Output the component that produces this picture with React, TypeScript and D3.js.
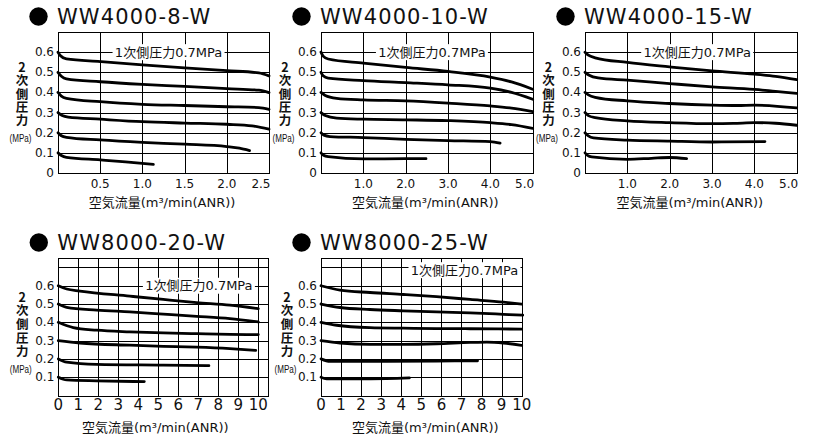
import React from 'react';
import * as d3 from 'd3';

// ---------- data ----------
const titles = ['WW4000-8-W', 'WW4000-10-W', 'WW4000-15-W', 'WW8000-20-W', 'WW8000-25-W'];
const primaryLabel = '1次側圧力0.7MPa';
const xAxisTitle = '空気流量(m³/min(ANR))';
const yAxisTitle = '2次側圧力';
const yUnit = '(MPa)';

const xTicks4000_8 = [0.5, 1.0, 1.5, 2.0, 2.5];
const xTicks4000 = [1, 2, 3, 4, 5];
const xTicks8000 = [0, 1, 2, 3, 4, 5, 6, 7, 8, 9, 10];
const yTicks4000 = [0, 0.1, 0.2, 0.3, 0.4, 0.5, 0.6];
const yTicks8000 = [0.1, 0.2, 0.3, 0.4, 0.5, 0.6];
const yGrid4000 = [0.1, 0.2, 0.3, 0.4, 0.5, 0.6];
const yGrid8000 = [0.1, 0.2, 0.3, 0.4, 0.5, 0.6, 0.7];

// secondary pressure curves [flow, pressure], one per set pressure 0.6 ... 0.1
const ww4000_8: number[][][] = [
  [[0, 0.6], [0.03, 0.582], [0.1, 0.566], [0.5, 0.553], [1.0, 0.537], [1.5, 0.522], [2.0, 0.508], [2.38, 0.497], [2.5, 0.482]],
  [[0, 0.5], [0.04, 0.48], [0.1, 0.467], [0.5, 0.453], [1.0, 0.44], [1.5, 0.43], [2.0, 0.419], [2.38, 0.411], [2.5, 0.399]],
  [[0, 0.4], [0.04, 0.382], [0.1, 0.371], [0.5, 0.354], [1.0, 0.341], [1.5, 0.335], [2.0, 0.329], [2.38, 0.325], [2.5, 0.316]],
  [[0, 0.3], [0.05, 0.285], [0.12, 0.277], [0.5, 0.267], [1.0, 0.255], [1.5, 0.248], [2.0, 0.242], [2.3, 0.234], [2.5, 0.218]],
  [[0, 0.2], [0.04, 0.185], [0.1, 0.177], [0.5, 0.164], [1.0, 0.152], [1.5, 0.143], [2.0, 0.131], [2.15, 0.123], [2.27, 0.111]],
  [[0, 0.1], [0.04, 0.087], [0.1, 0.078], [0.5, 0.065], [0.8, 0.055], [1.13, 0.043]],
];
const ww4000_10: number[][][] = [
  [[0, 0.6], [0.05, 0.58], [0.17, 0.566], [1, 0.546], [2, 0.524], [3, 0.504], [4, 0.476], [4.5, 0.452], [5, 0.416]],
  [[0, 0.5], [0.05, 0.483], [0.17, 0.471], [1, 0.459], [2, 0.449], [3, 0.438], [4, 0.421], [4.5, 0.4], [5, 0.366]],
  [[0, 0.4], [0.1, 0.385], [0.37, 0.371], [1, 0.363], [2, 0.358], [3, 0.347], [4, 0.333], [4.5, 0.322], [5, 0.305]],
  [[0, 0.3], [0.1, 0.285], [0.37, 0.272], [1, 0.267], [2, 0.264], [3, 0.26], [4, 0.25], [4.5, 0.24], [5, 0.222]],
  [[0, 0.2], [0.07, 0.188], [0.21, 0.181], [1, 0.176], [2, 0.167], [3, 0.161], [4, 0.156], [4.23, 0.148]],
  [[0, 0.1], [0.06, 0.088], [0.17, 0.081], [1, 0.07], [2, 0.071], [2.48, 0.071]],
];
const ww4000_15: number[][][] = [
  [[0, 0.6], [0.08, 0.585], [0.24, 0.572], [1, 0.549], [2, 0.527], [3, 0.507], [4, 0.491], [4.5, 0.48], [5, 0.464]],
  [[0, 0.5], [0.1, 0.485], [0.31, 0.472], [1, 0.461], [2, 0.444], [3, 0.428], [4, 0.415], [4.5, 0.405], [5, 0.395]],
  [[0, 0.4], [0.08, 0.388], [0.24, 0.376], [1, 0.358], [2, 0.345], [3, 0.337], [3.6, 0.335], [4, 0.337], [5, 0.323]],
  [[0, 0.3], [0.08, 0.285], [0.24, 0.275], [1, 0.259], [2, 0.25], [3, 0.245], [3.5, 0.246], [4, 0.25], [4.5, 0.247], [5, 0.237]],
  [[0, 0.2], [0.08, 0.184], [0.2, 0.174], [1, 0.163], [2, 0.158], [3, 0.154], [4.25, 0.156]],
  [[0, 0.1], [0.06, 0.088], [0.16, 0.08], [1, 0.068], [1.57, 0.073], [2, 0.077], [2.4, 0.071]],
];
const ww8000_20: number[][][] = [
  [[0, 0.6], [0.42, 0.582], [1.08, 0.571], [3.58, 0.543], [5.25, 0.525], [6.92, 0.508], [8.58, 0.494], [10, 0.475]],
  [[0, 0.5], [0.42, 0.482], [1.92, 0.467], [3.58, 0.457], [5.25, 0.445], [6.92, 0.433], [8.58, 0.42], [10, 0.402]],
  [[0, 0.4], [0.75, 0.371], [1.92, 0.357], [3.58, 0.348], [5.25, 0.342], [6.92, 0.338], [8.58, 0.334], [10, 0.333]],
  [[0, 0.3], [1.08, 0.287], [3.58, 0.275], [5.25, 0.269], [6.92, 0.264], [8.58, 0.256], [9.87, 0.247]],
  [[0, 0.2], [0.42, 0.182], [1.92, 0.17], [5.25, 0.166], [7.53, 0.163]],
  [[0, 0.1], [0.42, 0.085], [1.92, 0.08], [4.3, 0.076]],
];
const ww8000_25: number[][][] = [
  [[0, 0.6], [0.95, 0.576], [2.44, 0.563], [4.1, 0.552], [5.76, 0.54], [7.43, 0.525], [9.09, 0.51], [10, 0.5]],
  [[0, 0.5], [0.95, 0.481], [2.44, 0.47], [4.1, 0.463], [5.76, 0.457], [7.43, 0.452], [9.09, 0.444], [10.05, 0.439]],
  [[0, 0.4], [0.78, 0.384], [2.44, 0.371], [4.1, 0.368], [5.76, 0.366], [7.43, 0.365], [10, 0.363]],
  [[0, 0.3], [0.95, 0.287], [2.44, 0.28], [4.1, 0.28], [5.76, 0.283], [7.43, 0.29], [8.26, 0.292], [9.09, 0.287], [10, 0.274]],
  [[0, 0.2], [0.45, 0.186], [2.44, 0.186], [5.76, 0.188], [7.8, 0.19]],
  [[0, 0.1], [0.28, 0.091], [2.44, 0.091], [4.4, 0.096]],
];

// ---------- layout ----------
type Cfg = {
  title: string;
  series: number[][][];
  xTicks: number[];
  xGrid: number[];
  yTicks: number[];
  yGrid: number[];
  xMax: number;
  xFrame: number;
  yMax: number;
  xRange: [number, number];
  yRange: [number, number];
  labelX: number;
  labelY: number;
  lastTickEnd: boolean;
  xTickFont: number;
  xTickY: number;
  xTitleDx: number;
  xTitleY: number;
  yCharStart: number;
  yCharStep: number;
  yLabelDx: number;
};

const FONT_NUM = "'DejaVu Sans', 'Liberation Sans', sans-serif";
const FONT_JP = "'DejaVu Sans', 'Noto Sans CJK JP', sans-serif";
const FONT_JP_BOLD = "'Noto Sans CJK JP', 'DejaVu Sans', sans-serif";
const Y_TITLE_SIZE = 12.5;

const cfgs: Cfg[] = [
  {
    title: titles[0], series: ww4000_8, xTicks: xTicks4000_8, xGrid: [0.5, 1.0, 1.5, 2.0],
    yTicks: yTicks4000, yGrid: yGrid4000, xMax: 2.5, xFrame: 2.5, yMax: 0.7,
    xRange: [58, 269], yRange: [173, 32], labelX: 1.31, labelY: 0.6, lastTickEnd: true,
    xTickFont: 12, xTickY: 183.5, xTitleDx: -1.5, xTitleY: 202, yCharStart: 67, yCharStep: 13.4, yLabelDx: -36,
  },
  {
    title: titles[1], series: ww4000_10, xTicks: xTicks4000, xGrid: [1, 2, 3, 4],
    yTicks: yTicks4000, yGrid: yGrid4000, xMax: 5, xFrame: 5, yMax: 0.7,
    xRange: [321, 532.7], yRange: [173, 32], labelX: 2.62, labelY: 0.6, lastTickEnd: true,
    xTickFont: 12, xTickY: 183.5, xTitleDx: -1.5, xTitleY: 202, yCharStart: 67, yCharStep: 13.4, yLabelDx: -36,
  },
  {
    title: titles[2], series: ww4000_15, xTicks: xTicks4000, xGrid: [1, 2, 3, 4],
    yTicks: yTicks4000, yGrid: yGrid4000, xMax: 5, xFrame: 5, yMax: 0.7,
    xRange: [585, 796.7], yRange: [173, 32], labelX: 2.65, labelY: 0.6, lastTickEnd: true,
    xTickFont: 12, xTickY: 183.5, xTitleDx: -1, xTitleY: 202, yCharStart: 67, yCharStep: 13.4, yLabelDx: -36.5,
  },
  {
    title: titles[3], series: ww8000_20, xTicks: xTicks8000, xGrid: [1, 2, 3, 4, 5, 6, 7, 8, 9, 10],
    yTicks: yTicks8000, yGrid: yGrid8000, xMax: 10, xFrame: 10.5, yMax: 0.75,
    xRange: [58.3, 258.3], yRange: [395.5, 258.3], labelX: 7.03, labelY: 0.6, lastTickEnd: false,
    xTickFont: 15, xTickY: 405, xTitleDx: -8, xTitleY: 427, yCharStart: 297, yCharStep: 13.6, yLabelDx: -36,
  },
  {
    title: titles[4], series: ww8000_25, xTicks: xTicks8000, xGrid: [1, 2, 3, 4, 5, 6, 7, 8, 9],
    yTicks: yTicks8000, yGrid: yGrid8000, xMax: 10, xFrame: 10, yMax: 0.75,
    xRange: [321, 521.7], yRange: [395.5, 258.3], labelX: 7.15, labelY: 0.685, lastTickEnd: false,
    xTickFont: 15, xTickY: 405, xTitleDx: 4, xTitleY: 427, yCharStart: 297, yCharStep: 13.6, yLabelDx: -34,
  },
];

const px = (v: number) => Math.round(v) + 0.5;

function Chart({ c }: { c: Cfg }) {
  const x = d3.scaleLinear().domain([0, c.xMax]).range(c.xRange);
  const y = d3.scaleLinear().domain([0, c.yMax]).range(c.yRange);
  const line = d3
    .line<number[]>()
    .x((d) => x(d[0]))
    .y((d) => y(d[1]))
    .curve(d3.curveMonotoneX);
  const left = px(x(0));
  const right = px(x(c.xFrame));
  const bottom = px(y(0));
  const top = px(y(c.yMax));
  const fmtX = (v: number) => (c.xMax <= 5 ? d3.format('.1f')(v) : String(v));
  const fmtY = (v: number) => (v === 0 ? '0' : d3.format('.1f')(v));
  const titleBase = top - 8.5;
  const lblX = x(c.labelX);
  const lblY = y(c.labelY);
  const midX = (x(0) + x(c.xFrame)) / 2 + c.xTitleDx;
  const yLabX = x(0) + c.yLabelDx;
  return (
    <g>
      {/* title */}
      <circle cx={x(0) - 19.5} cy={titleBase - 7.5} r={9.2} fill="#000" />
      <text x={x(0) - 1} y={titleBase} fontFamily={FONT_NUM} fontSize={21} letterSpacing={1.1} fill="#111">
        {c.title}
      </text>
      {/* grid */}
      <g stroke="#000" strokeWidth={1} shapeRendering="crispEdges">
        {c.xGrid.map((g) => (
          <line key={'vx' + g} x1={px(x(g))} x2={px(x(g))} y1={top} y2={bottom} />
        ))}
        {c.yGrid.map((g) => (
          <line key={'hy' + g} x1={left} x2={right} y1={px(y(g))} y2={px(y(g))} />
        ))}
        <rect x={left} y={top} width={right - left} height={bottom - top} fill="none" />
      </g>
      {/* primary pressure label */}
      <rect x={lblX - 56} y={lblY - 8} width={112} height={16} fill="#fff" />
      <text x={lblX} y={lblY} textAnchor="middle" dominantBaseline="central" fontFamily={FONT_JP} fontSize={13} fill="#111">
        {primaryLabel}
      </text>
      {/* curves */}
      {c.series.map((s, i) => (
        <path key={i} d={line(s) || ''} fill="none" stroke="#000" strokeWidth={2.8} strokeLinecap="round" strokeLinejoin="round" />
      ))}
      {/* y ticks */}
      {c.yTicks.map((t) => (
        <text key={'yt' + t} x={x(0) - 4} y={y(t)} textAnchor="end" dominantBaseline="central" fontFamily={FONT_NUM} fontSize={12} fill="#111">
          {fmtY(t)}
        </text>
      ))}
      {/* x ticks */}
      {c.xTicks.map((t, i) => {
        const isLast = i === c.xTicks.length - 1 && c.lastTickEnd;
        return (
          <text
            key={'xt' + t}
            x={isLast ? x(c.xFrame) + 1.5 : x(t)}
            y={c.xTickY}
            textAnchor={isLast ? 'end' : 'middle'}
            dominantBaseline="central"
            fontFamily={FONT_NUM}
            fontSize={c.xTickFont}
            fill="#111"
          >
            {fmtX(t)}
          </text>
        );
      })}
      {/* x axis title */}
      <text x={midX} y={c.xTitleY} textAnchor="middle" dominantBaseline="central" fontFamily={FONT_JP} fontSize={13} fill="#111">
        {xAxisTitle}
      </text>
      {/* y axis title, vertical writing */}
      <text
        x={yLabX}
        y={c.yCharStart - Y_TITLE_SIZE / 2}
        style={{ writingMode: 'vertical-rl', textOrientation: 'upright' } as React.CSSProperties}
        fontFamily={FONT_JP_BOLD}
        fontWeight="bold"
        fontSize={Y_TITLE_SIZE}
        letterSpacing={c.yCharStep - Y_TITLE_SIZE}
        fill="#111"
      >
        {yAxisTitle}
      </text>
      <text
        x={yLabX - 1.5}
        y={c.yCharStart + 5 * c.yCharStep + 4}
        textAnchor="middle"
        dominantBaseline="central"
        fontFamily="'Liberation Sans Narrow', 'Liberation Sans', sans-serif"
        fontSize={10}
        textLength={22}
        lengthAdjust="spacingAndGlyphs"
        fill="#111"
      >
        {yUnit}
      </text>
    </g>
  );
}

export default function App() {
  return (
    <svg width={813} height={436} style={{ position: 'absolute', left: 0, top: 0, background: '#fff' }}>
      <rect width={813} height={436} fill="#fff" />
      {cfgs.map((c) => (
        <Chart key={c.title} c={c} />
      ))}
    </svg>
  );
}
